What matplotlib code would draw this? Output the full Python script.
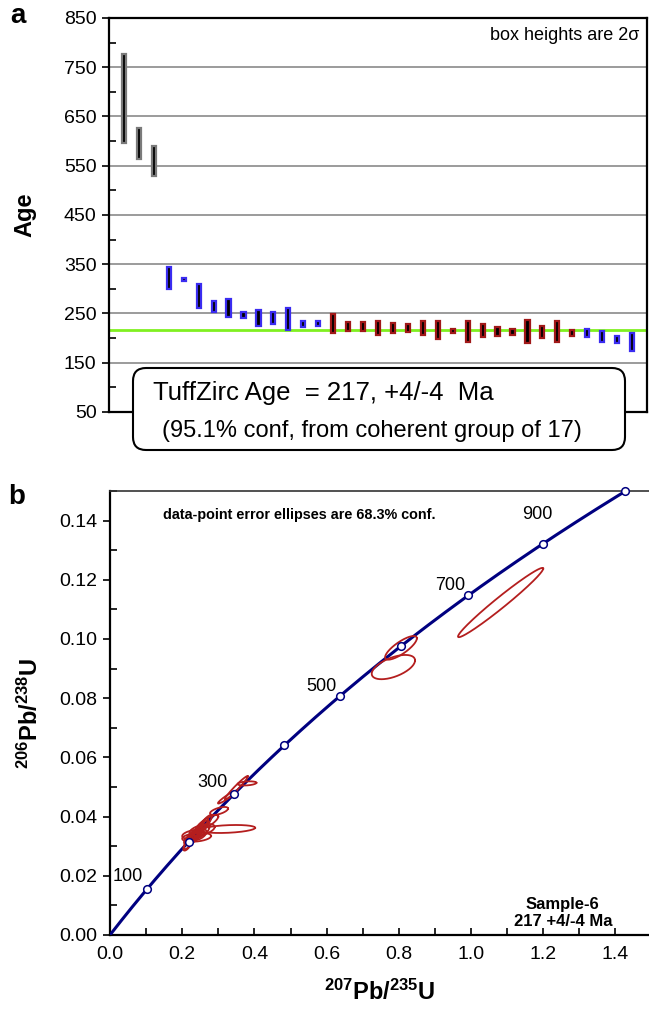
import numpy as np
import matplotlib
matplotlib.use('Agg')
import matplotlib.pyplot as plt
from matplotlib.patches import Rectangle, FancyBboxPatch
from matplotlib.ticker import MultipleLocator, FormatStrFormatter

plt.rcParams['font.family'] = ['Liberation Sans', 'DejaVu Sans']
plt.rcParams['mathtext.fontset'] = 'custom'
plt.rcParams['mathtext.rm'] = 'Liberation Sans'
plt.rcParams['mathtext.bf'] = 'Liberation Sans:bold'

# ---- panel a : ranked ages (2 sigma boxes) ----
age_lo = [596, 564, 530,
          300, 315, 262, 253, 243, 241, 225, 229, 217, 223, 225,
          210, 215, 215, 207, 210, 212, 206, 198, 210, 193, 202, 205, 207, 190, 200, 193, 205,
          203, 192, 190, 173]
age_hi = [776, 627, 591,
          344, 323, 310, 275, 280, 252, 258, 253, 261, 234, 235,
          248, 233, 233, 235, 231, 229, 235, 235, 219, 235, 229, 223, 219, 237, 225, 235, 217,
          218, 214, 205, 210]
group = (['old'] * 3 + ['rejected'] * 11 + ['coherent'] * 17 + ['rejected'] * 4)
tuffzirc_age = 217

# ---- panel b : concordia + ellipses ----
conc_ages = [100, 200, 300, 400, 500, 600, 700, 800, 900]
conc_labels = ['100', '300', '500', '700', '900']
conc_label_x = [0.050, 0.285, 0.586, 0.942, 1.183]
conc_label_y = [0.0196, 0.0514, 0.0841, 0.1182, 0.1419]

# ellipse centre x, half-width x, centre y, half-height y, correlation
ell_x = [1.082, 0.806, 0.785, 0.326, 0.350, 0.3795, 0.325, 0.302,
         0.235, 0.245, 0.225, 0.255, 0.240, 0.230, 0.250, 0.220, 0.262, 0.270, 0.240,
         0.215, 0.232, 0.248, 0.258]
ell_sx = [0.118, 0.044, 0.060, 0.076, 0.032, 0.026, 0.026, 0.025,
          0.025, 0.030, 0.020, 0.035, 0.018, 0.030, 0.022, 0.015, 0.020, 0.030, 0.040,
          0.012, 0.016, 0.020, 0.014]
ell_y = [0.1123, 0.0970, 0.0905, 0.0358, 0.0497, 0.0512, 0.0466, 0.0419,
         0.0335, 0.0345, 0.0325, 0.0355, 0.0350, 0.0340, 0.0360, 0.0315, 0.0375, 0.0380, 0.0330,
         0.0305, 0.0330, 0.0338, 0.0365]
ell_sy = [0.0117, 0.0040, 0.0041, 0.00135, 0.0040, 0.0007, 0.0022, 0.00135,
          0.0030, 0.0025, 0.0020, 0.0020, 0.0030, 0.0015, 0.0035, 0.0025, 0.0030, 0.0025, 0.0015,
          0.0020, 0.0022, 0.0018, 0.0022]
ell_rho = [0.98, 0.80, 0.55, 0.30, 0.97, 0.30, 0.95, 0.60,
           0.85, 0.70, 0.60, 0.50, 0.90, 0.40, 0.90, 0.80, 0.85, 0.80, 0.30,
           0.70, 0.75, 0.60, 0.80]

l238 = 1.55125e-4   # per Ma
l235 = 9.8485e-4

fig = plt.figure(figsize=(6.49, 10.10), dpi=100)

# ================= panel a =================
axa = fig.add_axes([109 / 649, 0.5921, 538 / 649, 0.3901])
axa.set_xlim(0, 36)
axa.set_ylim(50, 850)
for g in range(150, 800, 100):
    axa.axhline(g, color='#8a8a8a', lw=1.2, zorder=1)
axa.axhline(tuffzirc_age, color='#80f020', lw=2.0, zorder=2)

edge_col = {'old': '#7a7a7a', 'rejected': '#3a2cf0', 'coherent': '#a01818'}
for i in range(len(age_lo)):
    r = Rectangle((i + 1 - 0.14, age_lo[i]), 0.28, age_hi[i] - age_lo[i],
                  facecolor='black', edgecolor=edge_col[group[i]], lw=1.6, zorder=3)
    axa.add_patch(r)

axa.set_xticks([])
axa.set_yticks(range(50, 851, 100))
axa.set_yticks(range(100, 850, 100), minor=True)
axa.tick_params(axis='y', which='major', direction='out', length=5, width=1.2, labelsize=14, pad=4)
axa.tick_params(axis='y', which='minor', direction='in', length=5, width=1.2)
for s in axa.spines.values():
    s.set_linewidth(1.6)
axa.set_ylabel('Age', fontsize=17, fontweight='bold', labelpad=20)
axa.text(0.985, 0.955, 'box heights are 2\u03c3', transform=axa.transAxes,
         ha='right', va='center', fontsize=13)

box = FancyBboxPatch((1.33, 5.60), 4.92, 0.82, boxstyle='round,pad=0,rounding_size=0.13',
                     transform=fig.dpi_scale_trans, facecolor='white', edgecolor='black',
                     lw=1.5, zorder=5)
fig.add_artist(box)
fig.text(153 / 649, 1 - 393 / 1010, 'TuffZirc Age  = %d, +4/-4  Ma' % tuffzirc_age,
         ha='left', va='center', fontsize=18.5, zorder=6)
fig.text(162 / 649, 1 - 431 / 1010, '(95.1% conf, from coherent group of 17)',
         ha='left', va='center', fontsize=17, zorder=6)
fig.text(18 / 649, 1 - 16 / 1010, 'a', fontsize=20, fontweight='bold',
         ha='center', va='center')

# ================= panel b =================
axb = fig.add_axes([110 / 649, 0.0743, 539 / 649, 0.4396])
axb.set_xlim(0, 539 / 361)
axb.set_ylim(0, 0.15)

t = np.linspace(0, 900, 400)
axb.plot(np.exp(l235 * t) - 1, np.exp(l238 * t) - 1, color='#000080', lw=2.2, zorder=3,
         solid_capstyle='butt')

th = np.linspace(0, 2 * np.pi, 200)
for cx, sx, cy, sy, rho in zip(ell_x, ell_sx, ell_y, ell_sy, ell_rho):
    ex = cx + sx * np.cos(th)
    ey = cy + sy * (rho * np.cos(th) + np.sqrt(1 - rho ** 2) * np.sin(th))
    axb.plot(ex, ey, color='#b41e1e', lw=1.3, zorder=4)

ca = np.array(conc_ages, dtype=float)
axb.plot(np.exp(l235 * ca) - 1, np.exp(l238 * ca) - 1, 'o', ms=5.5, mfc='white',
         mec='#000080', mew=1.1, zorder=5, clip_on=False)
for lab, lx, ly in zip(conc_labels, conc_label_x, conc_label_y):
    axb.text(lx, ly, lab, fontsize=13, ha='center', va='center', zorder=6)

axb.xaxis.set_major_locator(MultipleLocator(0.2))
axb.xaxis.set_minor_locator(MultipleLocator(0.1))
axb.yaxis.set_major_locator(MultipleLocator(0.02))
axb.yaxis.set_minor_locator(MultipleLocator(0.01))
axb.xaxis.set_major_formatter(FormatStrFormatter('%.1f'))
axb.yaxis.set_major_formatter(FormatStrFormatter('%.2f'))
axb.tick_params(axis='x', which='both', direction='in', length=5, width=1.2, labelsize=14, pad=8)
axb.tick_params(axis='y', which='major', direction='out', length=5, width=1.2, labelsize=14, pad=4)
axb.tick_params(axis='y', which='minor', direction='in', length=5, width=1.2)
axb.spines['right'].set_visible(False)
for s in ['left', 'bottom']:
    axb.spines[s].set_linewidth(1.6)
axb.spines['top'].set_linewidth(1.2)
axb.spines['top'].set_color('#333333')

axb.set_xlabel(r'$\mathbf{^{207}Pb/^{235}U}$', fontsize=17, labelpad=12)
axb.set_ylabel(r'$\mathbf{^{206}Pb/^{238}U}$', fontsize=17, labelpad=12)
axb.text((163 - 110) / 539, 0.945, 'data-point error ellipses are 68.3% conf.',
         transform=axb.transAxes, ha='left', va='center', fontsize=10.4, fontweight='bold')
axb.text(0.84, 0.05, 'Sample-6\n217 +4/-4 Ma', transform=axb.transAxes, ha='center',
         va='center', fontsize=12, fontweight='bold', linespacing=1.2)
fig.text(17 / 649, 1 - 497 / 1010, 'b', fontsize=20, fontweight='bold', ha='center', va='center')

fig.savefig('out.png', dpi=100)
